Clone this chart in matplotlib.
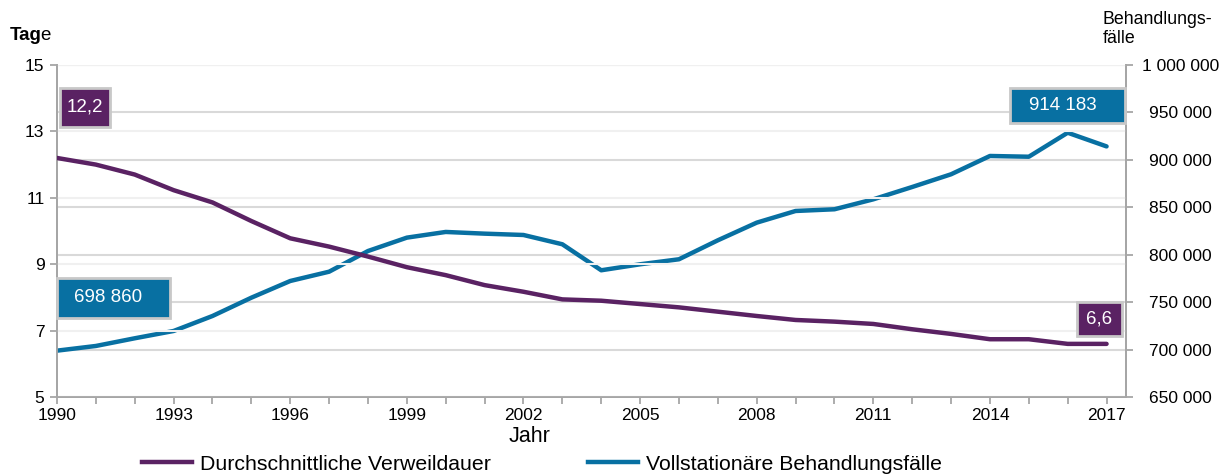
import matplotlib.pyplot as plt
import matplotlib.patches as patches
import numpy as np

plt.rcParams['font.family'] = ['Liberation Sans', 'DejaVu Sans']

years = list(range(1990, 2018))
verweildauer = [12.2, 12.0, 11.7, 11.23, 10.86, 10.3, 9.78, 9.53, 9.23, 8.91,
                8.67, 8.37, 8.17, 7.94, 7.9, 7.8, 7.7, 7.57, 7.44, 7.32,
                7.27, 7.2, 7.04, 6.9, 6.74, 6.74, 6.6, 6.6]
faelle = [698860, 703800, 711900, 719600, 735400, 754700, 772300, 782100, 803900, 818000,
          824000, 822200, 820800, 811000, 783600, 789900, 795200, 815200, 833800, 846100,
          847900, 858400, 871400, 884800, 904100, 903300, 928600, 914183]

left_ticks = [5, 7, 9, 11, 13, 15]
right_ticks = [650000, 700000, 750000, 800000, 850000, 900000, 950000, 1000000]
x_labels = list(range(1990, 2018, 3))

purple = '#5a2263'
blue = '#0870a2'

W, H = 1226, 474
fig = plt.figure(figsize=(W / 100, H / 100), dpi=100)

def px(x0, y0, x1, y1):
    # pixel box (top-left origin) -> figure fraction rect
    return [x0 / W, 1 - y1 / H, (x1 - x0) / W, (y1 - y0) / H]

ax = fig.add_axes(px(57, 65, 1126, 397))
ax2 = ax.twinx()

# grid lines: pale for left axis, darker for right axis
for t in left_ticks:
    ax.axhline(t, color='#f0f0f0', lw=1.5, zorder=0)
for t in right_ticks:
    ax2.axhline(t, color='#d9d9d9', lw=1.5, zorder=0)

ax2.plot(years, faelle, color=blue, lw=3.2, solid_capstyle='round', zorder=3)
ax.plot(years, verweildauer, color=purple, lw=3.2, solid_capstyle='round', zorder=3)
ax.set_zorder(ax2.get_zorder() + 1)
ax.patch.set_visible(False)

ax.set_xlim(1990, 2017.5)
ax.set_ylim(5, 15)
ax2.set_ylim(650000, 1000000)

ax.set_yticks(left_ticks)
ax.set_xticks(years)
ax.set_xticklabels([str(y) if y in x_labels else '' for y in years])
ax2.set_yticks(right_ticks)
ax2.set_yticklabels([f'{t:,}'.replace(',', ' ') for t in right_ticks])

for a in (ax, ax2):
    for s in a.spines.values():
        s.set_color('#a6a6a6')
        s.set_linewidth(1.3)
    a.spines['top'].set_visible(False)
ax.tick_params(axis='both', colors='#a6a6a6', labelcolor='black', labelsize=12.5,
               length=5, width=1.3, direction='out')
ax.tick_params(axis='x', pad=3)
ax.tick_params(axis='y', pad=4)
ax2.tick_params(axis='y', colors='#a6a6a6', labelcolor='black', labelsize=12.5,
                length=5, width=1.3, direction='out', pad=34)
for lbl in ax2.get_yticklabels():
    lbl.set_horizontalalignment('center')

# axis titles ("Tag" bold, "e" regular as in the original)
t1 = fig.text(10 / W, 1 - 35 / H, 'Tag', fontsize=13.5, fontweight='bold', va='center', ha='left')
r = fig.canvas.get_renderer()
bb = t1.get_window_extent(r)
fig.text((bb.x1 - 1.5) / W, 1 - 35 / H, 'e', fontsize=13.5, va='center', ha='left')
fig.text(1103 / W, 1 - 29 / H, 'Behandlungs-\nfälle', fontsize=12.8, va='center', ha='left',
         linespacing=1.2)
fig.text(530 / W, 1 - 437 / H, 'Jahr', fontsize=15.5, va='center', ha='center')

# value boxes
def box(x0, y0, x1, y1, color, text, tx=None):
    rect = patches.Rectangle((x0 / W, 1 - y1 / H), (x1 - x0) / W, (y1 - y0) / H,
                             transform=fig.transFigure, facecolor=color,
                             edgecolor='#c8c8c8', lw=2, zorder=5)
    fig.patches.append(rect)
    cx = (x0 + x1) / 2 if tx is None else tx
    fig.text(cx / W, 1 - (y0 + y1) / 2 / H, text, color='white', fontsize=13.5,
             ha='center', va='center', zorder=6)

def de(v):
    return f'{v:.1f}'.replace('.', ',')

def th(v):
    return f'{v:,}'.replace(',', ' ')

box(60, 88, 110, 127, purple, de(verweildauer[0]))
box(57, 278, 170, 318, blue, th(faelle[0]), tx=108)
box(1010, 88, 1125, 123, blue, th(faelle[-1]), tx=1063)
box(1077, 302, 1122, 336, purple, de(verweildauer[-1]))

# legend
fig.legend(handles=[plt.Line2D([], [], color=purple, lw=3.2),
                    plt.Line2D([], [], color=blue, lw=3.2)],
           labels=['Durchschnittliche Verweildauer', 'Vollstationäre Behandlungsfälle'],
           loc='center', bbox_to_anchor=(542 / W, 1 - 464 / H), ncol=2, frameon=False,
           fontsize=15.3, handlelength=2.35, handletextpad=0.38, columnspacing=4.6,
           borderpad=0)

fig.savefig('out.png', dpi=100)
